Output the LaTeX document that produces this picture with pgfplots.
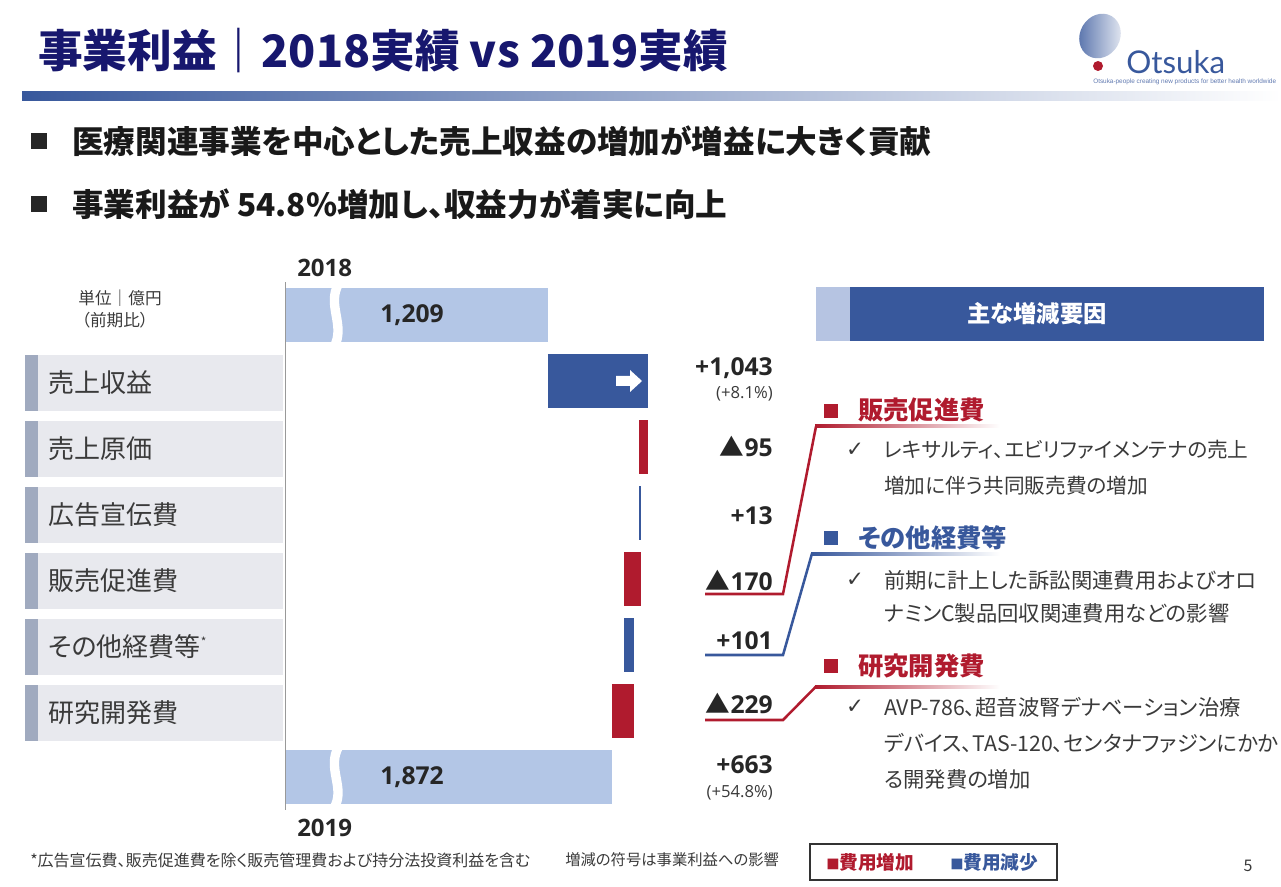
\documentclass[border=0pt]{standalone}
\usepackage{pgfplots}
\pgfplotsset{compat=1.18}
\usepackage{fontspec}
\setmainfont{Noto Sans CJK JP}[RawFeature=+palt]
\newfontfamily\numfont{Open Sans}
\newfontfamily\dv{DejaVu Sans}
\newfontfamily\logofont{Lato}
\newfontfamily\tagfont{Liberation Sans}
\definecolor{navy}{HTML}{17176E}
\definecolor{barlight}{HTML}{B3C6E6}
\definecolor{bblue}{HTML}{38589C}
\definecolor{bred}{HTML}{B01B2E}
\definecolor{catbg}{HTML}{E8E9EE}
\definecolor{catstrip}{HTML}{A0AABF}
\definecolor{txt}{HTML}{3A3A3A}
\definecolor{hdrlight}{HTML}{B6C4E2}
\newcommand\fs[1]{\fontsize{#1}{#1}\selectfont}
\begin{document}
\begin{tikzpicture}
\path[use as bounding box] (0pt,0pt) rectangle (960.75pt,-665.25pt);
% ---------------- waterfall axis ----------------
\begin{axis}[at={(363.75pt,-409.5pt)}, anchor=center,
  width=300pt, height=396pt, scale only axis,
  xmin=-1522, xmax=2632, ymin=-0.5, ymax=7.5, y dir=reverse,
  hide axis, clip=true]
% 2018 result: 1,209
\addplot[barlight, line width=41pt] coordinates {(-1600,0) (1209,0)};
% revenue +1,043
\addplot[bblue, line width=41pt] coordinates {(1209,1) (2252,1)};
% cost of sales -95
\addplot[bred, line width=41pt] coordinates {(2157,2) (2252,2)};
% advertising +13
\addplot[bblue, line width=41pt] coordinates {(2157,3) (2170,3)};
% sales promotion -170
\addplot[bred, line width=41pt] coordinates {(2000,4) (2170,4)};
% other expenses +101
\addplot[bblue, line width=41pt] coordinates {(2000,5) (2101,5)};
% R&D -229
\addplot[bred, line width=41pt] coordinates {(1872,6) (2101,6)};
% 2019 result: 1,872
\addplot[barlight, line width=41pt] coordinates {(-1600,7) (1872,7)};
\draw[gray!80, line width=0.8pt] (rel axis cs:0,0) -- (rel axis cs:0,1);
\end{axis}
% ---------------- slide decorations ----------------
\begin{scope}[x=0.75pt,y=-0.75pt]
% title
\node[anchor=west, inner sep=0, text=navy, font=\fs{33.5pt}\bfseries] at (38,51) {事業利益｜2018実績 vs 2019実績};
\shade[left color=bblue, right color=white] (22,92) rectangle (1281,101);
% logo
\shade[left color=bblue!85, right color=bblue!12, rotate around={-30:(1100,36)}] (1100,36) ellipse (20 and 23);
\fill[bred] (1098,66) circle (5);
\node[anchor=west, inner sep=0, text=bblue, font=\logofont\fs{23.5pt}] at (1126,62) {Otsuka};
\node[anchor=west, inner sep=0, text=bblue!80, font=\tagfont\fs{4.8pt}] at (1093,82) {Otsuka-people creating new products for better health worldwide};
% bullets
\fill[black!85] (31,133) rectangle (47,149);
\node[anchor=west, inner sep=0, text=black!90, font=\fs{23.7pt}\bfseries] at (72,141) {医療関連事業を中心とした売上収益の増加が増益に大きく貢献};
\fill[black!85] (31,196) rectangle (47,212);
\node[anchor=west, inner sep=0, text=black!90, font=\fs{23.7pt}\bfseries] at (72,204) {事業利益が 54.8\%増加し、収益力が着実に向上};
% years
\node[anchor=west, inner sep=0, text=black!85, font=\numfont\fs{18pt}\bfseries] at (297,268) {2018};
\node[anchor=west, inner sep=0, text=black!85, font=\numfont\fs{18pt}\bfseries] at (297,828) {2019};
% unit
\node[inner sep=0, text=txt, font=\fs{12.5pt}] at (120,298) {単位｜億円};
\node[inner sep=0, text=txt, font=\fs{12.5pt}] at (115,320) {（前期比）};
% category boxes
\foreach \yc/\lab in {383/売上収益, 449/売上原価, 515/広告宣伝費, 581/販売促進費, 647/{その他経費等\textsuperscript{\fs{9pt}*}}, 713/研究開発費}{
  \fill[catbg] (25,\yc-28) rectangle (283,\yc+28);
  \fill[catstrip] (25,\yc-28) rectangle (38,\yc+28);
  \node[anchor=west, inner sep=0, text=txt, font=\fs{19.5pt}] at (48,\yc) {\lab};
}
% bar breaks
\draw[white, line width=7pt] (339,283) .. controls (326,305) and (346,325) .. (334,347);
\draw[white, line width=7pt] (339,746) .. controls (326,768) and (346,788) .. (334,808);
% bar labels
\node[inner sep=0, text=black!85, font=\numfont\fs{18.5pt}\bfseries] at (412,315) {1,209};
\node[inner sep=0, text=black!85, font=\numfont\fs{18.5pt}\bfseries] at (412,777) {1,872};
% arrow on revenue bar
\fill[white] (616,376) -- (630,376) -- (630,370) -- (642,381) -- (630,392) -- (630,386) -- (616,386) -- cycle;
% value labels
\node[anchor=east, inner sep=0, text=black!85, font=\numfont\fs{18.5pt}\bfseries] at (773,368) {+1,043};
\node[anchor=east, inner sep=0, text=txt, font=\numfont\fs{12.5pt}] at (773,394) {(+8.1\%)};
\node[anchor=east, inner sep=0, text=black!85, font=\fs{18.5pt}] at (773,446) {\textbf{▲}{\numfont\bfseries 95}};
\node[anchor=east, inner sep=0, text=black!85, font=\numfont\fs{18.5pt}\bfseries] at (773,516) {+13};
\node[anchor=east, inner sep=0, text=black!85, font=\fs{18.5pt}] at (773,580) {\textbf{▲}{\numfont\bfseries 170}};
\node[anchor=east, inner sep=0, text=black!85, font=\numfont\fs{18.5pt}\bfseries] at (773,641) {+101};
\node[anchor=east, inner sep=0, text=black!85, font=\fs{18.5pt}] at (773,703) {\textbf{▲}{\numfont\bfseries 229}};
\node[anchor=east, inner sep=0, text=black!85, font=\numfont\fs{18.5pt}\bfseries] at (773,765) {+663};
\node[anchor=east, inner sep=0, text=txt, font=\numfont\fs{12.5pt}] at (773,793) {(+54.8\%)};
% connectors
\draw[bred, line width=1.9pt, line join=miter] (705,594) -- (783,594) -- (816,426.5);
\shade[left color=bred, right color=white] (815,425) rectangle (1000,428);
\draw[bblue, line width=1.9pt] (705,655) -- (783,655) -- (812,553.5);
\shade[left color=bblue, right color=white] (811,552) rectangle (1000,555);
\draw[bred, line width=1.9pt] (705,720) -- (783,720) -- (816,686.5);
\shade[left color=bred, right color=white] (815,685) rectangle (1000,688);
% header box
\fill[hdrlight] (816,287) rectangle (850,341);
\fill[bblue] (850,287) rectangle (1264,341);
\node[inner sep=0, text=white, font=\fs{17.5pt}\bfseries] at (1037,314) {主な増減要因};
% headings
\fill[bred] (824,404) rectangle (838,418);
\node[anchor=west, inner sep=0, text=bred, font=\fs{19pt}\bfseries] at (858,410) {販売促進費};
\fill[bblue] (824,531) rectangle (838,545);
\node[anchor=west, inner sep=0, text=bblue, font=\fs{19pt}\bfseries] at (858,538) {その他経費等};
\fill[bred] (824,659) rectangle (838,673);
\node[anchor=west, inner sep=0, text=bred, font=\fs{19pt}\bfseries] at (858,666) {研究開発費};
% details
\foreach \yy in {450,580,707}{\node[inner sep=0, text=txt, font=\dv\fs{16pt}] at (855,\yy) {✓};}
\node[anchor=west, inner sep=0, text=txt, font=\fs{15.5pt}] at (884,450) {レキサルティ、エビリファイメンテナの売上};
\node[anchor=west, inner sep=0, text=txt, font=\fs{15.5pt}] at (884,486) {増加に伴う共同販売費の増加};
\node[anchor=west, inner sep=0, text=txt, font=\fs{16pt}] at (884,580) {前期に計上した訴訟関連費用およびオロ};
\node[anchor=west, inner sep=0, text=txt, font=\fs{16pt}] at (884,613) {ナミンC製品回収関連費用などの影響};
\node[anchor=west, inner sep=0, text=txt, font=\fs{16pt}] at (884,707) {AVP-786、超音波腎デナベーション治療};
\node[anchor=west, inner sep=0, text=txt, font=\fs{16pt}] at (884,743) {デバイス、TAS-120、センタナファジンにかか};
\node[anchor=west, inner sep=0, text=txt, font=\fs{16pt}] at (884,779) {る開発費の増加};
% footer
\node[anchor=west, inner sep=0, text=txt, font=\fs{12pt}] at (30,860) {*広告宣伝費、販売促進費を除く販売管理費および持分法投資利益を含む};
\node[anchor=west, inner sep=0, text=txt, font=\fs{11.5pt}] at (565,860) {増減の符号は事業利益への影響};
\draw[black!80, line width=0.8pt] (810,844) rectangle (1057,880);
\node[anchor=west, inner sep=0, text=bred, font=\fs{14pt}\bfseries] at (826,862) {{\fs{10pt}■}費用増加};
\node[anchor=west, inner sep=0, text=bblue, font=\fs{14pt}\bfseries] at (950,862) {{\fs{10pt}■}費用減少};
\node[inner sep=0, text=txt, font=\fs{12pt}] at (1248,866) {5};
\end{scope}
\end{tikzpicture}
\end{document}
